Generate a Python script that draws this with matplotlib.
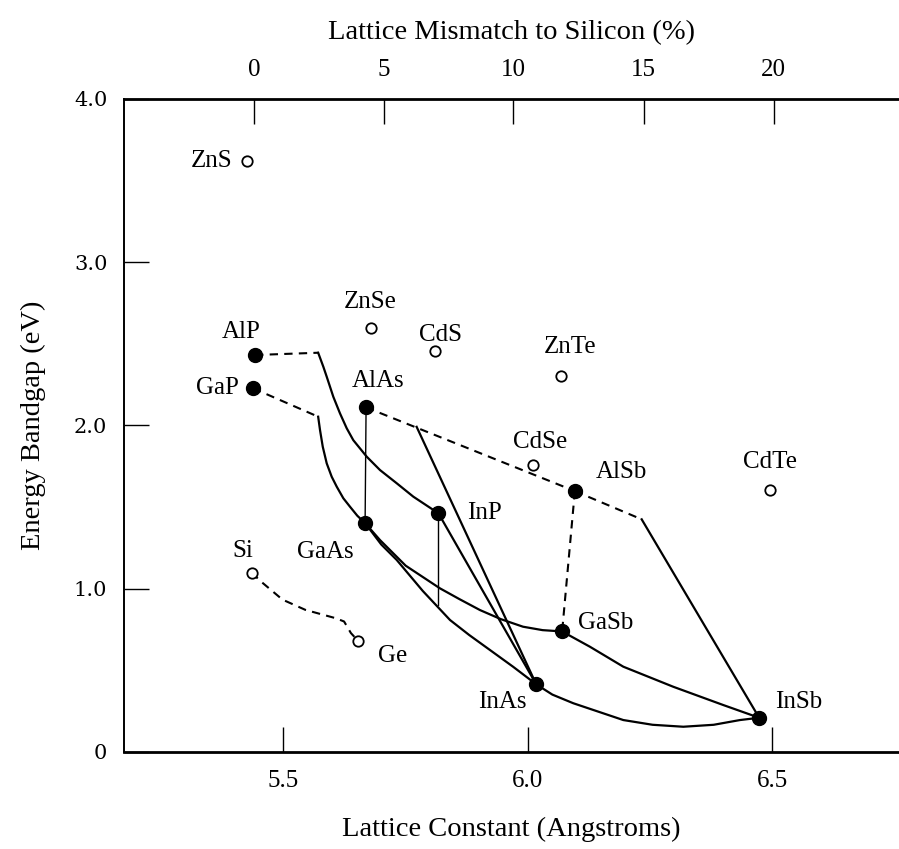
import matplotlib.pyplot as plt

# lattice constant (Angstrom) and bandgap (eV) of the III-V compounds (filled dots)
iii_v_names = ['AlP', 'GaP', 'AlAs', 'GaAs', 'InP', 'AlSb', 'GaSb', 'InAs', 'InSb']
iii_v_a = [5.442, 5.438, 5.669, 5.667, 5.817, 6.096, 6.070, 6.017, 6.473]
iii_v_eg = [2.431, 2.227, 2.110, 1.401, 1.461, 1.597, 0.737, 0.413, 0.208]

# II-VI compounds and the group IV elements (open circles)
other_names = ['ZnS', 'ZnSe', 'CdS', 'ZnTe', 'CdSe', 'CdTe', 'Si', 'Ge']
other_a = [5.426, 5.679, 5.810, 6.068, 6.011, 6.495, 5.435, 5.653]
other_eg = [3.62, 2.596, 2.455, 2.302, 1.757, 1.604, 1.097, 0.678]

# top axis: lattice mismatch to silicon (%) and where those ticks sit in Angstrom
mismatch_ticks = [0, 5, 10, 15, 20]
mismatch_at = [5.440, 5.706, 5.970, 6.237, 6.503]

pt = dict(zip(iii_v_names + other_names,
              zip(iii_v_a + other_a, iii_v_eg + other_eg)))

# ternary alloy lines: (points, style); points are compound names or (a, Eg)
alloys = [
    (['AlP', (5.571, 2.445)], 'dash'),
    ([(5.571, 2.445), (5.5816, 2.359), (5.5885, 2.298), (5.602, 2.175),
      (5.6157, 2.073), (5.6294, 1.982), (5.6429, 1.909), (5.6703, 1.808),
      (5.6975, 1.726), (5.7317, 1.645), (5.7656, 1.563), 'InP'], 'solid'),
    (['GaP', (5.571, 2.053)], 'dash'),
    ([(5.571, 2.053), (5.5748, 1.971), (5.5804, 1.869), (5.5885, 1.767),
      (5.5987, 1.685), (5.609, 1.624), (5.6225, 1.553), (5.6362, 1.501),
      (5.6511, 1.446), 'GaAs'], 'solid'),
    (['AlAs', 'GaAs'], 'thin'),
    (['AlAs', 'AlSb'], 'dash'),
    ([(5.7724, 1.991), 'InAs'], 'solid'),
    (['InP', 'InAs'], 'solid'),
    (['InP', (5.817, 0.900)], 'thin'),
    (['GaAs', (5.6975, 1.297), (5.7500, 1.140), (5.8202, 1.001),
      (5.860, 0.935), (5.902, 0.868), (5.945, 0.812), (5.990, 0.766),
      (6.030, 0.745), 'GaSb'], 'solid'),
    (['GaAs', (5.7000, 1.270), (5.7317, 1.175), (5.7850, 0.985),
      (5.8407, 0.807), (5.8800, 0.715), (5.9225, 0.623), (5.970, 0.520),
      'InAs'], 'solid'),
    (['AlSb', 'GaSb'], 'dash'),
    (['AlSb', (6.2327, 1.424)], 'dash'),
    ([(6.2327, 1.424), 'InSb'], 'solid'),
    (['GaSb', (6.127, 0.643), (6.1951, 0.521), (6.2973, 0.398),
      (6.3996, 0.286), 'InSb'], 'solid'),
    (['InAs', (6.0500, 0.350), (6.0928, 0.297), (6.1951, 0.194),
      (6.2550, 0.165), (6.3178, 0.153), (6.3800, 0.165), (6.4337, 0.194),
      'InSb'], 'solid'),
    (['Si', (5.454, 1.043), (5.498, 0.932), (5.545, 0.869), (5.607, 0.818),
      (5.624, 0.798), (5.638, 0.727), 'Ge'], 'dash'),
]

# label offsets from each point, in pixels (dx right, dy up)
label_offset = {
    'ZnS': (-36, 0), 'AlP': (-14, 23), 'GaP': (-36, 0), 'ZnSe': (-1, 26),
    'CdS': (5, 16), 'AlAs': (12, 26), 'ZnTe': (9, 29), 'CdSe': (7, 23),
    'AlSb': (47, 19), 'InP': (46, 0), 'CdTe': (0, 28), 'GaAs': (-40, -29),
    'Si': (-9, 22), 'Ge': (34, -15), 'GaSb': (44, 8), 'InAs': (-34, -18),
    'InSb': (40, 16),
}

plt.rcParams['font.family'] = ['Liberation Serif', 'DejaVu Serif']

fig = plt.figure(figsize=(8.99, 8.49), dpi=100)
ax = fig.add_axes([0.138, 0.1146, 0.862, 0.7688])

for pts, style in alloys:
    xy = [pt[p] if isinstance(p, str) else p for p in pts]
    xs = [p[0] for p in xy]
    ys = [p[1] for p in xy]
    if style == 'dash':
        ax.plot(xs, ys, color='black', lw=1.5, ls=(0, (4, 3)), zorder=2)
    elif style == 'thin':
        ax.plot(xs, ys, color='black', lw=1.0, zorder=2)
    else:
        ax.plot(xs, ys, color='black', lw=1.6, zorder=2,
                solid_joinstyle='round')

ax.plot(iii_v_a, iii_v_eg, 'o', color='black', ms=10, zorder=3)
ax.plot(other_a, other_eg, 'o', mfc='white', mec='black', mew=1.3, ms=7.5, zorder=3)

for name, (x, y) in pt.items():
    dx, dy = label_offset[name]
    ax.annotate(name, (x, y), xytext=(dx * 0.72, dy * 0.72),
                textcoords='offset points', ha='center', va='center',
                fontsize=18)

ax.set_xlim(5.174, 6.759)
ax.set_ylim(0, 4.0)

ax.set_xticks([5.5, 6.0, 6.5])
ax.set_xticklabels(['5.5', '6.0', '6.5'])
ax.set_yticks([0, 1, 2, 3, 4])
ax.set_yticklabels(['0', '1.0', '2.0', '3.0', '4.0'], family='DejaVu Serif')

ax.tick_params(axis='x', direction='in', length=18, width=1.0,
               labelsize=18, pad=13)
ax.tick_params(axis='y', direction='in', length=18, width=1.0,
               labelsize=15, pad=12)

ax.spines['right'].set_visible(False)
ax.spines['bottom'].set_linewidth(2.0)
ax.spines['top'].set_linewidth(2.0)
ax.spines['left'].set_linewidth(1.4)

top = ax.twiny()
top.set_xlim(ax.get_xlim())
top.set_xticks(mismatch_at)
top.set_xticklabels([str(t) for t in mismatch_ticks])
top.tick_params(axis='x', direction='in', length=18, width=1.0,
                labelsize=18, pad=13)
for s in top.spines.values():
    s.set_visible(False)

ax.set_xlabel('Lattice Constant (Angstroms)', fontsize=20.5, labelpad=18)
ax.set_ylabel('Energy Bandgap (eV)', fontsize=20.5, labelpad=20)
top.set_xlabel('Lattice Mismatch to Silicon (%)', fontsize=20.5, labelpad=14)

fig.savefig('out.png', dpi=100)
